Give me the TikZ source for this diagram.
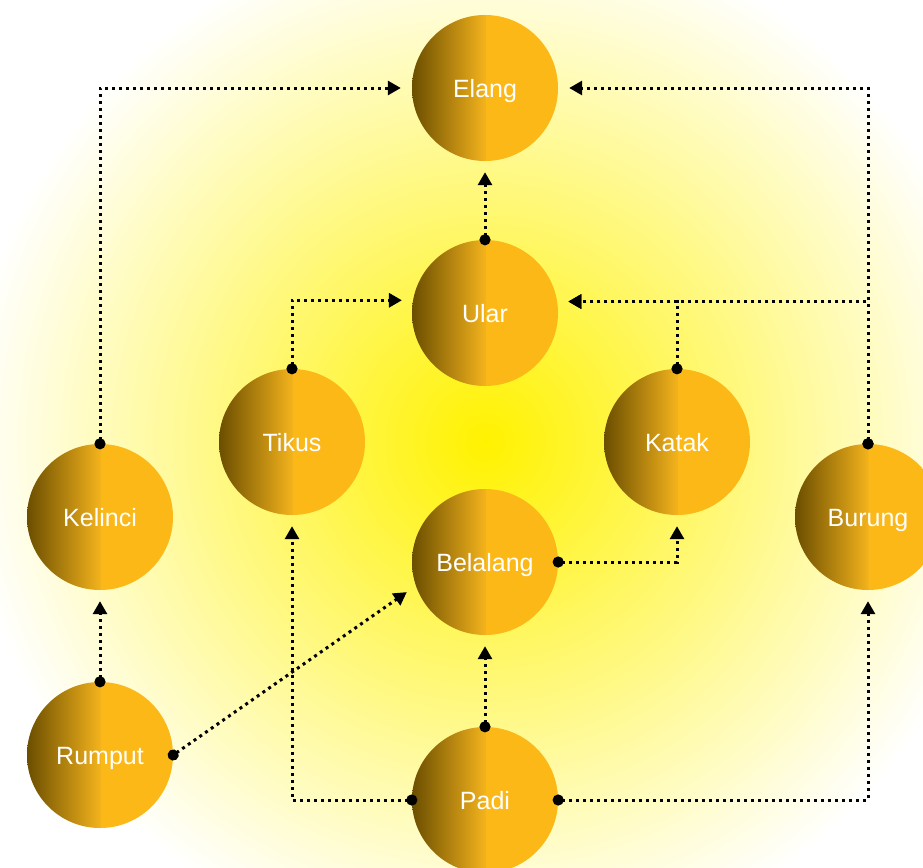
\documentclass[tikz,border=0pt]{standalone}
\usepackage{fontspec}
\setmainfont{Liberation Sans}
\usetikzlibrary{arrows.meta}
\definecolor{cdark}{RGB}{107,78,0}
\definecolor{cmid}{RGB}{242,178,28}
\definecolor{cright}{RGB}{251,184,23}
\definecolor{bgyel}{RGB}{255,242,0}
\pgfdeclarehorizontalshading{circgrad}{100bp}{color(0bp)=(cdark); color(25bp)=(cdark); color(50bp)=(cmid); color(50.2bp)=(cright); color(100bp)=(cright)}
\pgfdeclareradialshading{bgrad}{\pgfpoint{0bp}{0bp}}{color(0bp)=(bgyel); color(12.5bp)=(white); color(50bp)=(white)}
\tikzset{
  animal/.style={circle, minimum size=146pt, inner sep=0pt, shading=circgrad, text=white, font=\fontsize{25}{30}\selectfont, text height=19.6pt, text depth=0pt},
  conn/.style={line width=3pt, dash pattern=on 3pt off 4pt, {Circle[length=11pt]}-{Triangle[length=13pt,width=14pt]}, shorten <=-5.5pt, shorten >=11pt}
}
\begin{document}
\begin{tikzpicture}[x=1pt,y=-1pt]
\useasboundingbox (0,0) rectangle (923,867);
\clip (0,0) rectangle (923,867);
\shade[shading=bgrad] (485-1040,442-1040) rectangle (485+1040,442+1040);
\node[animal] (el) at (485,88) {Elang};
\node[animal] (ul) at (485,313) {Ular};
\node[animal] (tik) at (292,442) {Tikus};
\node[animal] (kat) at (677,442) {Katak};
\node[animal] (kel) at (100,517) {Kelinci};
\node[animal] (bur) at (868,517) {Burung};
\node[animal] (bel) at (485,562) {Belalang};
\node[animal] (rum) at (100,755) {Rumput};
\node[animal] (padi) at (485,800) {Padi};
\draw[conn] (kel.north) |- (el.west);
\draw[conn] (bur.north) |- (el.east);
\draw[conn] (bur.north) |- (ul.9.5);
\draw[conn] (kat.north) |- (ul.9.5);
\draw[conn] (tik.north) |- (ul.170.5);
\draw[conn] (ul.north) -- (el.south);
\draw[conn] (bel.east) -| (kat.south);
\draw[conn] (padi.north) -- (bel.south);
\draw[conn] (padi.west) -| (tik.south);
\draw[conn] (padi.east) -| (bur.south);
\draw[conn] (rum.east) -- (bel.199);
\draw[conn] (rum.north) -- (kel.south);
\end{tikzpicture}
\end{document}
